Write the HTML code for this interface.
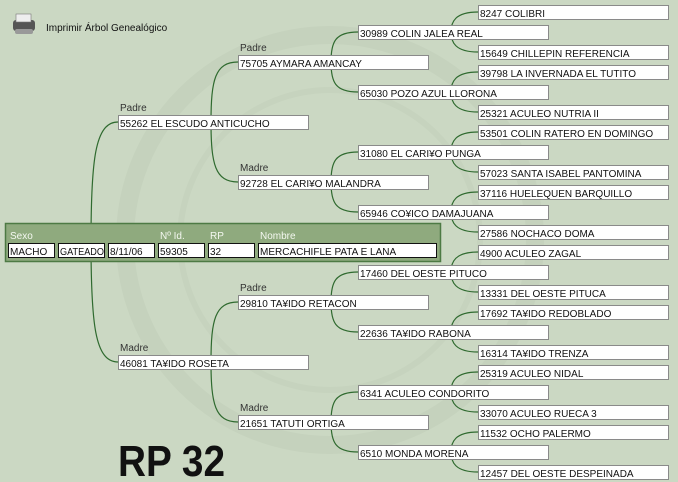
<!DOCTYPE html>
<html><head><meta charset="utf-8"><style>
body{margin:0;width:678px;height:482px;overflow:hidden;background:#cbd8c3;font-family:"Liberation Sans",sans-serif}
svg{display:block}
.b{fill:#fff;stroke:#8a8a8a;stroke-width:1}
.t{font-size:10px;fill:#111}
.l{font-size:10px;fill:#333}
.c{fill:none;stroke:#2f6a2f;stroke-width:1.2}
.w{font-size:10px;fill:#f4f8f0}
</style></head><body>
<svg width="678" height="482" xmlns="http://www.w3.org/2000/svg">
<circle cx="330" cy="240" r="205" fill="none" stroke="#c5d2bd" stroke-width="18"/>
<circle cx="330" cy="240" r="150" fill="none" stroke="#c6d3be" stroke-width="6"/>
<path class="c" d="M118,122 C95,122 91,160 91,242 C91,324 95,362 118,362"/>
<path class="c" d="M238,62 C215,62 211,80 211,122 C211,164 215,182 238,182"/>
<path class="c" d="M238,302 C215,302 211,320 211,362 C211,404 215,422 238,422"/>
<path class="c" d="M358,32 C335,32 331,42 331,62 C331,82 335,92 358,92"/>
<path class="c" d="M358,152 C335,152 331,162 331,182 C331,202 335,212 358,212"/>
<path class="c" d="M358,272 C335,272 331,282 331,302 C331,322 335,332 358,332"/>
<path class="c" d="M358,392 C335,392 331,402 331,422 C331,442 335,452 358,452"/>
<path class="c" d="M478,12 C455,12 451,22 451,32 C451,42 455,52 478,52"/>
<path class="c" d="M478,72 C455,72 451,82 451,92 C451,102 455,112 478,112"/>
<path class="c" d="M478,132 C455,132 451,142 451,152 C451,162 455,172 478,172"/>
<path class="c" d="M478,192 C455,192 451,202 451,212 C451,222 455,232 478,232"/>
<path class="c" d="M478,252 C455,252 451,262 451,272 C451,282 455,292 478,292"/>
<path class="c" d="M478,312 C455,312 451,322 451,332 C451,342 455,352 478,352"/>
<path class="c" d="M478,372 C455,372 451,382 451,392 C451,402 455,412 478,412"/>
<path class="c" d="M478,432 C455,432 451,442 451,452 C451,462 455,472 478,472"/>
<rect x="13" y="20" width="22" height="11" rx="3" fill="#555"/>
<rect x="16" y="14" width="15" height="8" fill="#eee" stroke="#777" stroke-width="0.6"/>
<rect x="15" y="29" width="18" height="5" rx="2" fill="#999"/>
<text x="46" y="31" class="t" style="font-size:10px">Imprimir Árbol Genealógico</text>
<text x="120" y="111" class="l">Padre</text>
<rect class="b" x="118.5" y="115.5" width="190" height="14"/><text x="120" y="127" class="t">55262 EL ESCUDO ANTICUCHO</text>
<text x="120" y="351" class="l">Madre</text>
<rect class="b" x="118.5" y="355.5" width="190" height="14"/><text x="120" y="367" class="t">46081 TA¥IDO ROSETA</text>
<text x="240" y="51" class="l">Padre</text>
<rect class="b" x="238.5" y="55.5" width="190" height="14"/><text x="240" y="67" class="t">75705 AYMARA AMANCAY</text>
<text x="240" y="171" class="l">Madre</text>
<rect class="b" x="238.5" y="175.5" width="190" height="14"/><text x="240" y="187" class="t">92728 EL CARI¥O MALANDRA</text>
<text x="240" y="291" class="l">Padre</text>
<rect class="b" x="238.5" y="295.5" width="190" height="14"/><text x="240" y="307" class="t">29810 TA¥IDO RETACON</text>
<text x="240" y="411" class="l">Madre</text>
<rect class="b" x="238.5" y="415.5" width="190" height="14"/><text x="240" y="427" class="t">21651 TATUTI ORTIGA</text>
<rect class="b" x="358.5" y="25.5" width="190" height="14"/><text x="360" y="37" class="t">30989 COLIN JALEA REAL</text>
<rect class="b" x="358.5" y="85.5" width="190" height="14"/><text x="360" y="97" class="t">65030 POZO AZUL LLORONA</text>
<rect class="b" x="358.5" y="145.5" width="190" height="14"/><text x="360" y="157" class="t">31080 EL CARI¥O PUNGA</text>
<rect class="b" x="358.5" y="205.5" width="190" height="14"/><text x="360" y="217" class="t">65946 CO¥ICO DAMAJUANA</text>
<rect class="b" x="358.5" y="265.5" width="190" height="14"/><text x="360" y="277" class="t">17460 DEL OESTE PITUCO</text>
<rect class="b" x="358.5" y="325.5" width="190" height="14"/><text x="360" y="337" class="t">22636 TA¥IDO RABONA</text>
<rect class="b" x="358.5" y="385.5" width="190" height="14"/><text x="360" y="397" class="t">6341 ACULEO CONDORITO</text>
<rect class="b" x="358.5" y="445.5" width="190" height="14"/><text x="360" y="457" class="t">6510 MONDA MORENA</text>
<rect class="b" x="478.5" y="5.5" width="190" height="14"/><text x="480" y="17" class="t">8247 COLIBRI</text>
<rect class="b" x="478.5" y="45.5" width="190" height="14"/><text x="480" y="57" class="t">15649 CHILLEPIN REFERENCIA</text>
<rect class="b" x="478.5" y="65.5" width="190" height="14"/><text x="480" y="77" class="t">39798 LA INVERNADA EL TUTITO</text>
<rect class="b" x="478.5" y="105.5" width="190" height="14"/><text x="480" y="117" class="t">25321 ACULEO NUTRIA II</text>
<rect class="b" x="478.5" y="125.5" width="190" height="14"/><text x="480" y="137" class="t">53501 COLIN RATERO EN DOMINGO</text>
<rect class="b" x="478.5" y="165.5" width="190" height="14"/><text x="480" y="177" class="t">57023 SANTA ISABEL PANTOMINA</text>
<rect class="b" x="478.5" y="185.5" width="190" height="14"/><text x="480" y="197" class="t">37116 HUELEQUEN BARQUILLO</text>
<rect class="b" x="478.5" y="225.5" width="190" height="14"/><text x="480" y="237" class="t">27586 NOCHACO DOMA</text>
<rect class="b" x="478.5" y="245.5" width="190" height="14"/><text x="480" y="257" class="t">4900 ACULEO ZAGAL</text>
<rect class="b" x="478.5" y="285.5" width="190" height="14"/><text x="480" y="297" class="t">13331 DEL OESTE PITUCA</text>
<rect class="b" x="478.5" y="305.5" width="190" height="14"/><text x="480" y="317" class="t">17692 TA¥IDO REDOBLADO</text>
<rect class="b" x="478.5" y="345.5" width="190" height="14"/><text x="480" y="357" class="t">16314 TA¥IDO TRENZA</text>
<rect class="b" x="478.5" y="365.5" width="190" height="14"/><text x="480" y="377" class="t">25319 ACULEO NIDAL</text>
<rect class="b" x="478.5" y="405.5" width="190" height="14"/><text x="480" y="417" class="t">33070 ACULEO RUECA 3</text>
<rect class="b" x="478.5" y="425.5" width="190" height="14"/><text x="480" y="437" class="t">11532 OCHO PALERMO</text>
<rect class="b" x="478.5" y="465.5" width="190" height="14"/><text x="480" y="477" class="t">12457 DEL OESTE DESPEINADA</text>
<rect x="5.5" y="223.5" width="435" height="38" fill="#8faa7e" stroke="#4d7a44" stroke-width="1.5"/>
<text x="10" y="239" class="w">Sexo</text>
<text x="160" y="239" class="w">Nº Id.</text>
<text x="210" y="239" class="w">RP</text>
<text x="260" y="239" class="w">Nombre</text>
<g stroke="#111" stroke-width="1" fill="#fff">
<rect x="8.5" y="243.5" width="46" height="14"/>
<rect x="58.5" y="243.5" width="46" height="14"/>
<rect x="108.5" y="243.5" width="46" height="14"/>
<rect x="158.5" y="243.5" width="46" height="14"/>
<rect x="208.5" y="243.5" width="46" height="14"/>
<rect x="258.5" y="243.5" width="178" height="14"/>
</g>
<text x="10" y="255" class="t">MACHO</text>
<text x="60" y="255" class="t" textLength="44" lengthAdjust="spacingAndGlyphs">GATEADO</text>
<text x="110" y="255" class="t">8/11/06</text>
<text x="160" y="255" class="t">59305</text>
<text x="210" y="255" class="t">32</text>
<text x="260" y="255" class="t">MERCACHIFLE PATA E LANA</text>
<text x="118" y="476" textLength="107" lengthAdjust="spacingAndGlyphs" style="font-size:44px;font-weight:bold;fill:#111">RP 32</text>
</svg>
</body></html>
